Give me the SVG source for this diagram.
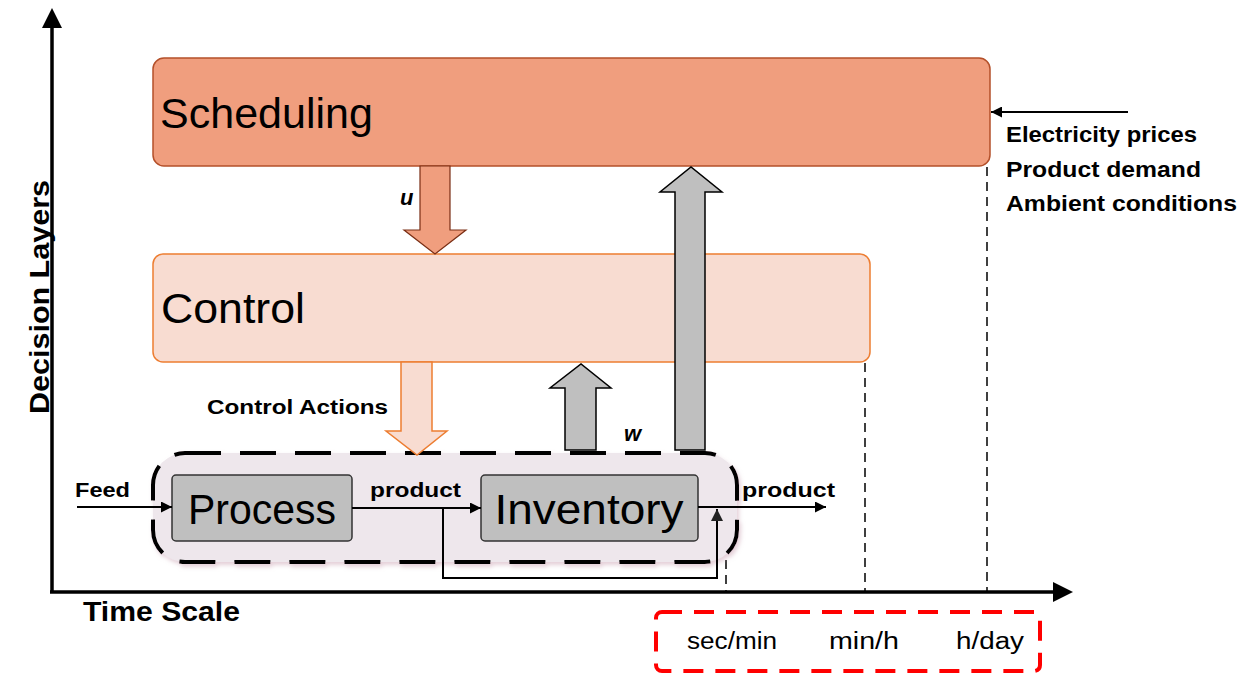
<svg xmlns="http://www.w3.org/2000/svg" width="1258" height="675" viewBox="0 0 1258 675">
  <defs>
    <marker id="tri" viewBox="0 0 10 10" refX="10" refY="5" markerWidth="12" markerHeight="11" markerUnits="userSpaceOnUse" orient="auto">
      <path d="M0,0 L10,5 L0,10 z" fill="#000"/>
    </marker>
    <marker id="triDark" viewBox="0 0 10 10" refX="10" refY="5" markerWidth="13" markerHeight="12" markerUnits="userSpaceOnUse" orient="auto">
      <path d="M0,0 L10,5 L0,10 z" fill="#222"/>
    </marker>
    <filter id="soft" x="-5%" y="-10%" width="110%" height="125%">
      <feDropShadow dx="2" dy="3" stdDeviation="2" flood-color="#c9a0b0" flood-opacity="0.5"/>
    </filter>
  </defs>
  <style>
    .big { font-family: "Liberation Sans", Arial, sans-serif; font-size: 42px; fill: #000; }
    .lbl { font-family: "Liberation Sans", Arial, sans-serif; font-weight: bold; font-size: 20px; fill: #000; }
    .axis { font-family: "Liberation Sans", Arial, sans-serif; font-weight: bold; font-size: 28px; fill: #000; }
    .env { font-family: "Liberation Sans", Arial, sans-serif; font-weight: bold; font-size: 22px; fill: #000; }
    .time { font-family: "Liberation Sans", Arial, sans-serif; font-size: 23px; fill: #000; }
    .var { font-family: "Liberation Sans", Arial, sans-serif; font-weight: bold; font-style: italic; font-size: 22px; fill: #000; }
    .dash { stroke: #000; stroke-width: 1.5; stroke-dasharray: 9 6; fill: none; }
    .flow { stroke: #000; stroke-width: 2; fill: none; }
    .up { fill: #BFBFBF; stroke: #000; stroke-width: 1.5; }
  </style>

  <!-- axes -->
  <g id="axes">
    <line x1="52" y1="592" x2="52" y2="26" stroke="#000" stroke-width="3.5"/>
    <path d="M52,8 L62,28 L42,28 z" fill="#000"/>
    <line x1="50" y1="592" x2="1054" y2="592" stroke="#000" stroke-width="3.5"/>
    <path d="M1073,592 L1053,582 L1053,602 z" fill="#000"/>
    <text class="axis" transform="translate(49,414) rotate(-90)" textLength="234" lengthAdjust="spacingAndGlyphs">Decision Layers</text>
    <text class="axis" x="83" y="621" textLength="157" lengthAdjust="spacingAndGlyphs">Time Scale</text>
  </g>

  <!-- time-scale guide lines -->
  <g id="guides">
    <line class="dash" x1="987" y1="167" x2="987" y2="591"/>
    <line class="dash" x1="865" y1="363" x2="865" y2="591"/>
    <line class="dash" x1="726" y1="560" x2="726" y2="591"/>
  </g>

  <!-- scheduling layer -->
  <g id="scheduling">
    <rect x="153" y="58" width="837" height="108" rx="11" fill="#F09E7E" stroke="#B4502A" stroke-width="1.5"/>
    <text class="big" x="160" y="128" textLength="213" lengthAdjust="spacingAndGlyphs">Scheduling</text>
  </g>

  <!-- control layer -->
  <g id="control">
    <rect x="153" y="254" width="717" height="108" rx="10" fill="#F8DCD1" stroke="#ED7D31" stroke-width="1.5"/>
    <text class="big" x="161" y="323" textLength="144" lengthAdjust="spacingAndGlyphs">Control</text>
  </g>

  <!-- plant: process and inventory -->
  <g id="plant">
    <rect x="153" y="453" width="584" height="109" rx="32" fill="#EEE7EC" stroke="#000" stroke-width="4" stroke-dasharray="36 19" filter="url(#soft)"/>
  </g>
  <g id="process">
    <rect x="172" y="475" width="180" height="66" rx="4" fill="#BFBFBF" stroke="#333" stroke-width="1.5"/>
    <text class="big" x="262" y="524" text-anchor="middle" textLength="148" lengthAdjust="spacingAndGlyphs">Process</text>
  </g>
  <g id="inventory">
    <rect x="481" y="475" width="217" height="66" rx="4" fill="#BFBFBF" stroke="#333" stroke-width="1.5"/>
    <text class="big" x="589" y="524" text-anchor="middle" textLength="189" lengthAdjust="spacingAndGlyphs">Inventory</text>
  </g>

  <!-- block arrows and flows -->
  <g id="connectors">
    <!-- u: scheduling to control -->
    <path d="M420,166 L450,166 L450,230 L466,230 L435,254 L404,230 L420,230 z" fill="#F09E7E" stroke="#7A2E14" stroke-width="1.2"/>
    <!-- control actions: control to plant -->
    <path d="M401,362 L432,362 L432,431 L447,431 L417,455 L386,431 L401,431 z" fill="#F8DCD1" stroke="#ED7D31" stroke-width="1.5"/>
    <!-- w: plant to control -->
    <path class="up" d="M565,450 L565,388 L550,388 L581,364 L611,388 L596,388 L596,450 z"/>
    <!-- plant to scheduling -->
    <path class="up" d="M675,450 L675,192 L660,192 L691,167 L722,192 L705,192 L705,450 z"/>

    <!-- material flows -->
    <line class="flow" x1="77" y1="507" x2="172" y2="507" marker-end="url(#tri)"/>
    <line class="flow" x1="352" y1="508" x2="481" y2="508" marker-end="url(#tri)"/>
    <line class="flow" x1="698" y1="507" x2="826" y2="507" marker-end="url(#tri)"/>
    <polyline class="flow" points="443,508 443,578 717,578 717,509" marker-end="url(#triDark)"/>

    <!-- external information into scheduling -->
    <line class="flow" x1="1128" y1="112" x2="991" y2="112" marker-end="url(#tri)"/>
  </g>

  <!-- labels -->
  <g id="labels">
    <text class="var" x="400" y="205">u</text>
    <text class="var" x="624" y="441">w</text>
    <text class="lbl" x="207" y="414" textLength="181" lengthAdjust="spacingAndGlyphs">Control Actions</text>
    <text class="lbl" x="75" y="497" textLength="55" lengthAdjust="spacingAndGlyphs">Feed</text>
    <text class="lbl" x="370" y="497" textLength="91" lengthAdjust="spacingAndGlyphs">product</text>
    <text class="lbl" x="742" y="497" textLength="93" lengthAdjust="spacingAndGlyphs">product</text>
    <text class="env" x="1006" y="142" textLength="191" lengthAdjust="spacingAndGlyphs">Electricity prices</text>
    <text class="env" x="1006" y="177" textLength="195" lengthAdjust="spacingAndGlyphs">Product demand</text>
    <text class="env" x="1006" y="211" textLength="231" lengthAdjust="spacingAndGlyphs">Ambient conditions</text>
  </g>

  <!-- time-scale legend -->
  <g id="timescale">
    <rect x="656" y="612" width="384" height="59" rx="6" fill="none" stroke="#FF0000" stroke-width="4" stroke-dasharray="20 12"/>
    <text class="time" x="732" y="649" text-anchor="middle" textLength="90" lengthAdjust="spacingAndGlyphs">sec/min</text>
    <text class="time" x="864" y="649" text-anchor="middle" textLength="70" lengthAdjust="spacingAndGlyphs">min/h</text>
    <text class="time" x="990" y="649" text-anchor="middle" textLength="68" lengthAdjust="spacingAndGlyphs">h/day</text>
  </g>
</svg>
